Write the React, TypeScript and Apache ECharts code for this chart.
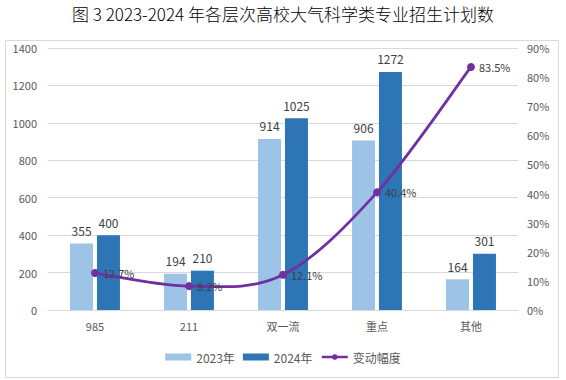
import React, { useEffect, useRef } from "react";
import * as echarts from "echarts";

const categories = ["985", "211", "双一流", "重点", "其他"];
const values2023 = [355, 194, 914, 906, 164];
const values2024 = [400, 210, 1025, 1272, 301];
const changeRate = [12.7, 8.2, 12.1, 40.4, 83.5];
const leftTicks = { min: 0, max: 1400, interval: 200 };
const rightTicks = { min: 0, max: 90, interval: 10 };

const LINE_COLOR = "#7030a0";

export default function App() {
  const ref = useRef<HTMLDivElement>(null);
  useEffect(() => {
    const chart = echarts.init(ref.current!, null, { renderer: "svg" });
    const font = "'Microsoft YaHei', 'Noto Sans CJK SC', sans-serif";
    chart.setOption({
      animation: false,
      backgroundColor: "#ffffff",
      textStyle: { fontFamily: font },
      title: {
        text: "图 3 2023-2024 年各层次高校大气科学类专业招生计划数",
        left: "center",
        top: 0,
        textStyle: { fontSize: 17, fontWeight: 300, color: "#000", fontFamily: "'Noto Sans CJK SC', sans-serif" },
      },
      graphic: [
        {
          type: "rect",
          shape: { x: 5.5, y: 40.5, width: 553, height: 337 },
          style: { fill: "none", stroke: "#d9d9d9", lineWidth: 1 },
          silent: true,
        },
      ],
      legend: {
        bottom: 12,
        left: "center",
        itemWidth: 26,
        itemHeight: 7,
        itemGap: 8,
        textStyle: { color: "#595959", fontSize: 12 },
        data: [
          { name: "2023年", icon: "rect" },
          { name: "2024年", icon: "rect" },
          { name: "变动幅度", lineStyle: { color: LINE_COLOR, width: 2.5, opacity: 1 } },
        ],
      },
      grid: { left: 48, right: 48, top: 48, bottom: 70 },
      xAxis: {
        type: "category",
        data: categories,
        axisLine: { lineStyle: { color: "#d9d9d9" } },
        axisTick: { show: false },
        axisLabel: { color: "#595959", fontSize: 11, margin: 10 },
      },
      yAxis: [
        {
          type: "value",
          ...leftTicks,
          axisLabel: { color: "#595959", fontSize: 11, margin: 11, formatter: (v: number) => String(v) },
          splitLine: { lineStyle: { color: "#d9d9d9" } },
          axisLine: { show: false },
          axisTick: { show: false },
        },
        {
          type: "value",
          ...rightTicks,
          axisLabel: { color: "#595959", fontSize: 11, formatter: "{value}%", margin: 9 },
          splitLine: { show: false },
          axisLine: { show: false },
          axisTick: { show: false },
        },
      ],
      series: [
        {
          name: "2023年",
          type: "bar",
          data: values2023,
          barWidth: 23,
          barGap: "17%",
          itemStyle: { color: "#9dc3e6" },
          label: { show: true, position: "top", color: "#404040", fontSize: 12, distance: 7 },
        },
        {
          name: "2024年",
          type: "bar",
          data: values2024,
          barWidth: 23,
          itemStyle: { color: "#2e75b6" },
          label: { show: true, position: "top", color: "#404040", fontSize: 12, distance: 7 },
        },
        {
          name: "变动幅度curve",
          type: "custom",
          yAxisIndex: 1,
          data: changeRate.map((v, i) => [i, v]),
          silent: true,
          z: 4,
          renderItem: (params: any, api: any) => {
            if (params.dataIndex !== 0) return null;
            const pts = changeRate.map((v, i) => api.coord([i, v]));
            const n = pts.length;
            let d = `M${pts[0][0]},${pts[0][1]}`;
            for (let i = 0; i < n - 1; i++) {
              const p0 = pts[Math.max(i - 1, 0)];
              const p1 = pts[i];
              const p2 = pts[i + 1];
              const p3 = pts[Math.min(i + 2, n - 1)];
              const c1x = p1[0] + (p2[0] - p0[0]) / 6;
              const c1y = p1[1] + (p2[1] - p0[1]) / 6;
              const c2x = p2[0] - (p3[0] - p1[0]) / 6;
              const c2y = p2[1] - (p3[1] - p1[1]) / 6;
              d += ` C${c1x},${c1y} ${c2x},${c2y} ${p2[0]},${p2[1]}`;
            }
            return {
              type: "path",
              shape: { pathData: d },
              style: { stroke: LINE_COLOR, fill: "none", lineWidth: 2.75 },
            };
          },
        },
        {
          name: "变动幅度",
          type: "line",
          yAxisIndex: 1,
          data: changeRate,
          symbol: "circle",
          symbolSize: 8,
          lineStyle: { color: LINE_COLOR, width: 2.5, opacity: 0 },
          itemStyle: { color: LINE_COLOR },
          label: {
            show: true,
            position: "right",
            color: "#404040",
            fontSize: 11,
            distance: 4,
            formatter: (p: any) => p.value.toFixed(1) + "%",
          },
          z: 5,
        },
      ],
    });
    return () => chart.dispose();
  }, []);
  return (
    <div
      ref={ref}
      style={{ position: "fixed", left: 0, top: 0, width: 566, height: 380 }}
    />
  );
}
